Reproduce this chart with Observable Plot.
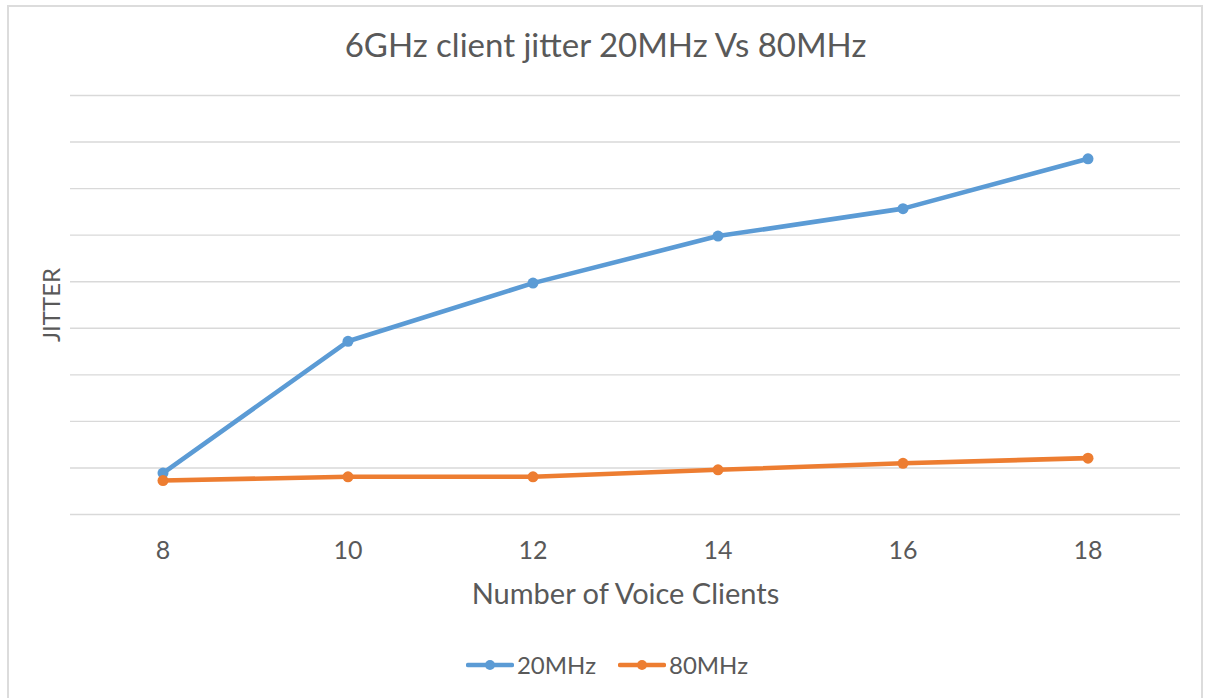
<!DOCTYPE html>
<html>
<head>
<meta charset="utf-8">
<script src="https://cdn.jsdelivr.net/npm/d3@7"></script>
<script src="https://cdn.jsdelivr.net/npm/@observablehq/plot@0.6"></script>
<style>
  html, body { margin: 0; padding: 0; background: #fff; }
  body { width: 1206px; height: 698px; position: relative; overflow: hidden; font-family: Lato, "Open Sans", sans-serif; }
  #frame { position: absolute; left: 7px; top: 5px; width: 1196px; height: 710px; border: 2px solid #dcdcdc; box-sizing: border-box; }
  #chart { position: absolute; left: 0; top: 0; }
  #legend { position: absolute; left: 8px; top: 650px; width: 1198px; display: flex; justify-content: center; align-items: center; font-size: 24px; color: #595959; }
  .item { display: flex; align-items: center; margin: 0 11px; }
  .item svg { margin-right: 3px; }
</style>
</head>
<body>
<div id="frame"></div>
<div id="chart"></div>
<div id="legend"></div>
<script>
const clients = [8, 10, 12, 14, 16, 18];
const jitter20 = [0.89, 3.72, 4.97, 5.98, 6.57, 7.64];
const jitter80 = [0.73, 0.81, 0.81, 0.96, 1.10, 1.21];
const seriesNames = ["20MHz", "80MHz"];
const seriesColors = ["#5b9bd5", "#ed7d31"];
const xTicks = [8, 10, 12, 14, 16, 18];
const yGrid = [0, 1, 2, 3, 4, 5, 6, 7, 8, 9];
const titleText = "6GHz client jitter 20MHz Vs 80MHz";
const xLabel = "Number of Voice Clients";
const yLabel = "JITTER";

const seriesValues = [jitter20, jitter80];
const rows = [];
seriesNames.forEach((s, i) => clients.forEach((c, j) => rows.push({ series: s, clients: c, jitter: seriesValues[i][j] })));

const textColor = "#595959";
const chart = Plot.plot({
  width: 1206,
  height: 630,
  marginLeft: 70,
  marginRight: 26,
  marginTop: 95,
  marginBottom: 116,
  style: { fontFamily: "Lato, 'Open Sans', sans-serif", color: textColor, background: "transparent", overflow: "visible" },
  x: { domain: [7, 19] },
  y: { domain: [0, 9], axis: null },
  color: { domain: seriesNames, range: seriesColors },
  marks: [
    Plot.ruleY(yGrid, { stroke: "#d9d9d9", strokeWidth: 1.4 }),
    Plot.axisX({ ticks: xTicks, tickSize: 0, tickPadding: 27, fontSize: 25, label: null, tickFormat: d => String(d), fill: textColor }),
    Plot.line(rows, { x: "clients", y: "jitter", z: "series", stroke: "series", strokeWidth: 4.6, strokeLinejoin: "round", strokeLinecap: "round" }),
    Plot.dot(rows, { x: "clients", y: "jitter", fill: "series", r: 5.5 }),
    Plot.text([titleText], { text: d => d, frameAnchor: "top", dx: -20, dy: -62, fontSize: 33, fill: textColor }),
    Plot.text([xLabel], { text: d => d, frameAnchor: "bottom", dy: 89, fontSize: 29, fill: textColor }),
    Plot.text([yLabel], { text: d => d, frameAnchor: "left", textAnchor: "middle", dx: -18, rotate: -90, fontSize: 24, fill: textColor })
  ]
});
document.getElementById("chart").appendChild(chart);

const legend = document.getElementById("legend");
seriesNames.forEach((name, i) => {
  const item = document.createElement("div");
  item.className = "item";
  item.innerHTML = `<svg width="48" height="14"><line x1="2" y1="7" x2="46" y2="7" stroke="${seriesColors[i]}" stroke-width="4.5" stroke-linecap="round"/><circle cx="24" cy="7" r="5" fill="${seriesColors[i]}"/></svg><span>${name}</span>`;
  legend.appendChild(item);
});
</script>
</body>
</html>
